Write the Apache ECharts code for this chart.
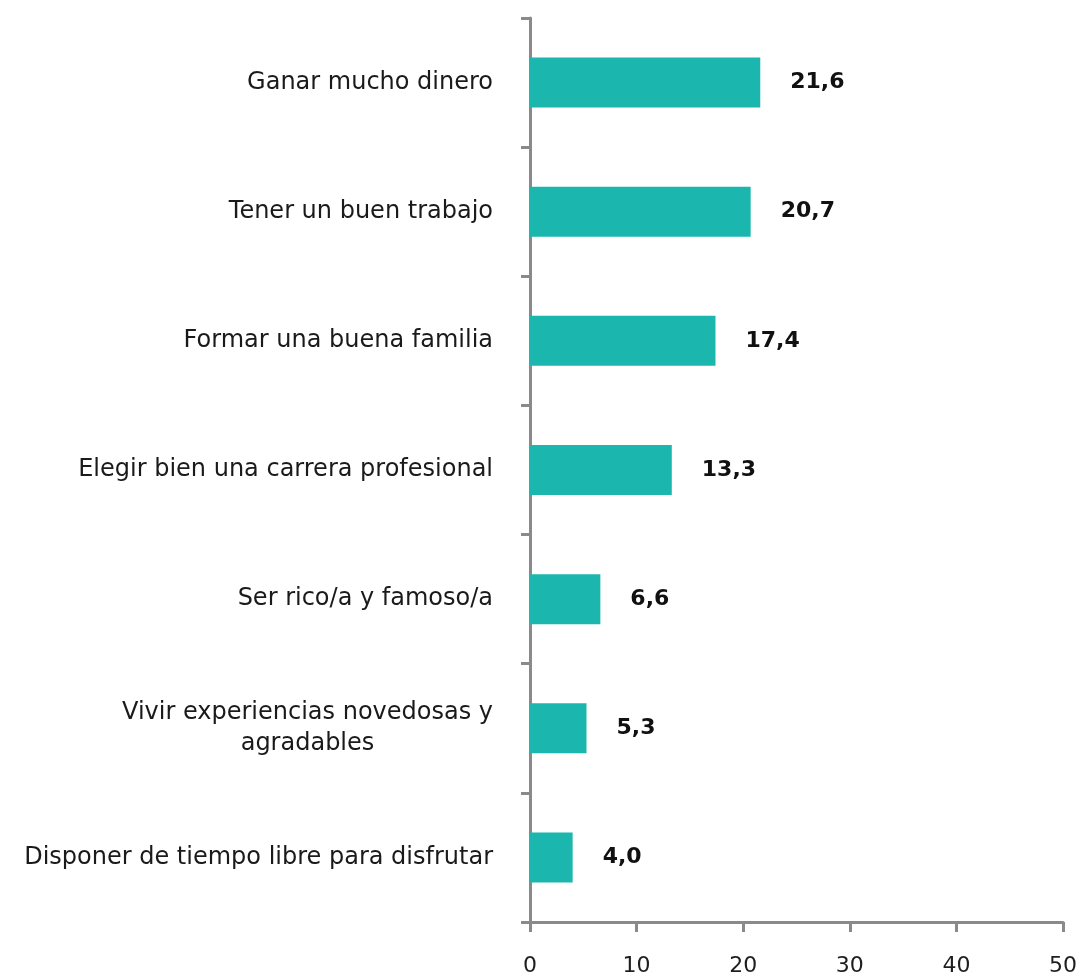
<!DOCTYPE html>
<html>
<head>
<meta charset="utf-8">
<script src="https://cdn.jsdelivr.net/npm/echarts@6/dist/echarts.min.js"></script>
<style>
  html, body { margin: 0; padding: 0; background: #fff; }
  #chart { width: 1081px; height: 979px; }
</style>
</head>
<body>
<div id="chart"></div>
<script>
// categorías, de abajo hacia arriba (eje Y de categorías)
const categories = [
  'Disponer de tiempo libre para disfrutar',
  'Vivir experiencias novedosas y\nagradables',
  'Ser rico/a y famoso/a',
  'Elegir bien una carrera profesional',
  'Formar una buena familia',
  'Tener un buen trabajo',
  'Ganar mucho dinero',
];
const values = [4.0, 5.3, 6.6, 13.3, 17.4, 20.7, 21.6];
const xTicks = [0, 10, 20, 30, 40, 50];

const chart = echarts.init(document.getElementById('chart'));
const axisColor = '#8a8a8a';
const font = 'DejaVu Sans';

const option = {
  animation: false,
  grid: { // posición del área de dibujo
    left: 530,
    right: 18,
    top: 18,
    bottom: 57,
  },
  xAxis: {
    type: 'value',
    min: xTicks[0],
    max: xTicks[xTicks.length - 1],
    interval: 10,
    splitLine: { show: false },
    axisLine: { show: true, lineStyle: { color: axisColor, width: 3 } },
    axisTick: { show: true, length: 10, lineStyle: { color: axisColor, width: 3 } },
    axisLabel: {
      margin: 33,
      color: '#1e1e1e',
      fontSize: 22,
      fontFamily: font,
    },
  },
  yAxis: {
    type: 'category',
    data: categories,
    axisLine: { show: true, lineStyle: { color: axisColor, width: 3 } },
    axisTick: { show: true, length: 9, lineStyle: { color: axisColor, width: 3 } },
    axisLabel: {
      margin: 37,
      color: '#1a1a1a',
      fontSize: 24,
      fontFamily: font,
      lineHeight: 31,
      formatter: (v) => v.split('\n').map((s) => '{c|' + s + '}').join('\n'),
      rich: {
        c: { align: 'center', fontSize: 24, fontFamily: font, color: '#1a1a1a', lineHeight: 31 },
      },
    },
  },
  series: [{
    type: 'bar',
    data: values,
    barWidth: 50,
    itemStyle: { color: '#1bb6ae' },
    label: {
      show: true,
      position: 'right',
      distance: 30,
      color: '#111',
      fontSize: 22,
      fontWeight: 'bold',
      fontFamily: font,
      formatter: (p) => p.value.toFixed(1).replace('.', ','),
    },
  }],
};
chart.setOption(option);
</script>
</body>
</html>
